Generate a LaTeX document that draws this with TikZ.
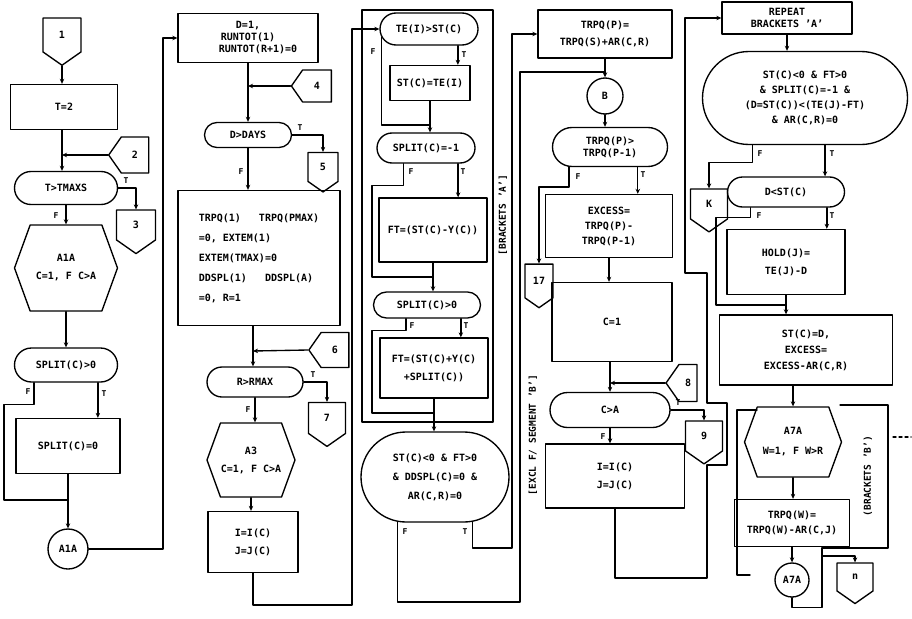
\documentclass[tikz,border=0pt]{standalone}
\usepackage{fontspec}
\setmainfont{DejaVu Sans Mono}
\usetikzlibrary{shapes.misc,shapes.symbols,arrows.meta,calc}
\begin{document}
\begin{tikzpicture}[x=1pt,y=-1pt,
  every node/.style={font=\fontsize{10}{12}\selectfont\bfseries, inner sep=0pt, align=center},
  ln/.style={line width=1.35pt, line cap=round, line join=round},
  arr/.style={ln, -{Stealth[length=5pt,width=4.5pt]}},
  proc/.style={draw, ln, rectangle},
  dec/.style={draw, ln, rounded rectangle},
  offp/.style={draw, ln, signal, signal to=south, signal pointer angle=110},
  offw/.style={draw, ln, signal, signal to=west, signal pointer angle=110},
  hexa/.style={draw, ln, signal, signal to=east and west, signal pointer angle=140},
  term/.style={draw, ln, circle},
  lbl/.style={font=\fontsize{8}{9}\selectfont\bfseries},
  vtxt/.style={rotate=90, font=\fontsize{9.5}{11}\selectfont\bfseries}
]
\useasboundingbox[fill=white] (0,0) rectangle (912,618);

% ================= NODES =================
% column 1
\node[offp, minimum width=38, minimum height=36] (c1) at (62,35) {1};
\node[proc, minimum width=107, minimum height=45] (t2) at (64,107) {T=2};
\node[offw, minimum width=40, minimum height=36] (c2) at (135,155) {2};
\node[dec, minimum width=103, minimum height=33] (d1) at (66,188) {T>TMAXS};
\node[offp, minimum width=39, minimum height=32] (c3) at (136,225) {3};
\node[hexa, minimum width=103, minimum height=86] (h1) at (66,268) {A1A\\[6pt]C=1, F C>A};
\node[dec, minimum width=103, minimum height=34] (d2) at (66,365) {SPLIT(C)>0};
\node[proc, minimum width=104, minimum height=55] (s1) at (68,446) {SPLIT(C)=0};
\node[term, minimum size=40] (a1) at (68,549) {A1A};
% column 2
\node[proc, minimum width=140, minimum height=49] (b1) at (248,38) {D=1,\\RUNTOT(1)\hspace{20pt}\\\hspace{20pt}RUNTOT(R+1)=0};
\node[offw, minimum width=40, minimum height=32] (c4) at (317,86) {4};
\node[dec, minimum width=87, minimum height=25] (d3) at (248,135) {D>DAYS};
\node[offp, minimum width=30, minimum height=31] (c5) at (323,167) {5};
\node[proc, minimum width=162, minimum height=135, align=left] (b2) at (259,258)
  {TRPQ(1) \ \ TRPQ(PMAX)\\[8pt]=0, EXTEM(1)\\[8pt]EXTEM(TMAX)=0\\[8pt]DDSPL(1) \ \ DDSPL(A)\\[8pt]=0, R=1};
\node[offw, minimum width=40, minimum height=35] (c6) at (335,350) {6};
\node[dec, minimum width=96, minimum height=30] (d4) at (255,382) {R>RMAX};
\node[offp, minimum width=37, minimum height=33] (c7) at (327,418) {7};
\node[hexa, minimum width=88, minimum height=74] (h2) at (251,460) {A3\\[6pt]C=1, F C>A};
\node[proc, minimum width=90, minimum height=61] (b3) at (253,542) {I=I(C)\\[6pt]J=J(C)};
% column 3
\node[dec, minimum width=98, minimum height=32] (d5) at (429,29) {TE(I)>ST(C)};
\node[proc, minimum width=80, minimum height=35] (r31) at (430,83) {ST(C)=TE(I)};
\node[dec, minimum width=98, minimum height=30] (d6) at (426,148) {SPLIT(C)=-1};
\node[proc, minimum width=108, minimum height=64] (r32) at (433,230) {FT=(ST(C)-Y(C))};
\node[dec, minimum width=107, minimum height=26] (d7) at (427,305) {SPLIT(C)>0};
\node[proc, minimum width=108, minimum height=60] (r33) at (434,368) {FT=(ST(C)+Y(C)\\[6pt]+SPLIT(C))};
\node[dec, minimum width=148, minimum height=90] (e1) at (435,477) {ST(C)<0 \& FT>0\\[7pt]\& DDSPL(C)=0 \&\\[7pt]AR(C,R)=0};
\node[vtxt] (bA) at (503,215) {[BRACKETS 'A']};
% column 4
\node[proc, minimum width=134, minimum height=48] (r41) at (605,34) {TRPQ(P)=\\[5pt]TRPQ(S)+AR(C,R)};
\node[term, minimum size=36] (cB) at (605,96) {B};
\node[dec, minimum width=115, minimum height=39] (d8) at (610,147) {TRPQ(P)>\\TRPQ(P-1)};
\node[offp, minimum width=28, minimum height=38] (c17) at (539,281) {17};
\node[proc, minimum width=127, minimum height=63] (r42) at (609,226) {EXCESS=\\[3pt]TRPQ(P)-\\[3pt]TRPQ(P-1)};
\node[proc, minimum width=120, minimum height=79] (r43) at (612,322) {C=1};
\node[offw, minimum width=31, minimum height=37] (c8) at (688,383) {8};
\node[dec, minimum width=120, minimum height=35] (d9) at (610,410) {C>A};
\node[offp, minimum width=37, minimum height=32] (c9) at (704,436) {9};
\node[proc, minimum width=139, minimum height=64] (r44) at (615,476) {I=I(C)\\[6pt]J=J(C)};
\node[vtxt] (sB) at (533,435) {[EXCL F/ SEGMENT 'B']};
% column 5/6
\node[proc, minimum width=130, minimum height=32] (rep) at (787,18) {REPEAT\\BRACKETS 'A'};
\node[dec, minimum width=205, minimum height=93] (e2) at (805,98) {ST(C)<0 \& FT>0\\[3pt]\& SPLIT(C)=-1 \&\\[3pt](D=ST(C))<(TE(J)-FT)\\[3pt]\& AR(C,R)=0};
\node[offp, minimum width=37, minimum height=32] (cK) at (709,204) {K};
\node[dec, minimum width=117, minimum height=30] (d10) at (786,192) {D<ST(C)};
\node[proc, minimum width=118, minimum height=65] (r61) at (786,262) {HOLD(J)=\\[6pt]TE(J)-D};
\node[proc, minimum width=173, minimum height=70] (r62) at (806,350) {ST(C)=D,\\[4pt]EXCESS=\\[4pt]EXCESS-AR(C,R)};
\node[hexa, minimum width=97, minimum height=70] (h3) at (793,442) {A7A\\[8pt]W=1, F W>R};
\node[proc, minimum width=115, minimum height=47] (r63) at (792,523) {TRPQ(W)=\\[3pt]TRPQ(W)-AR(C,J)};
\node[term, minimum size=34] (a7) at (792,580) {A7A};
\node[offp, minimum width=36, minimum height=30] (cn) at (855,577) {n};
\node[vtxt] (bB) at (868,476) {(BRACKETS 'B')};

% ================= COORDINATES =================
\coordinate (j11) at (62,155);
\coordinate (j12) at (68,500);
\coordinate (k1) at (163,549);
\coordinate (j21) at (248,86);
\coordinate (j22) at (253,351);
\coordinate (k2) at (352,605);
\coordinate (j31) at (430,125);
\coordinate (f32) at (372,277);
\coordinate (j32) at (433,277);
\coordinate (f33) at (372,413);
\coordinate (j33) at (434,413);
\coordinate (tl) at (512,548);
\coordinate (fl) at (520,602);
\coordinate (jB) at (605,72);
\coordinate (j41) at (610,383);
\coordinate (j6) at (786,305);
\coordinate (f6) at (716,305);
\coordinate (q1) at (822,548);
\coordinate (q2) at (888,548);
\coordinate (q3) at (888,405);
\coordinate (q4) at (840,405);
\coordinate (q5) at (822,556);
\coordinate (dd1) at (893,437);
\coordinate (dd2) at (911,437);

% ================= CONNECTORS =================
% column 1
\draw[arr] (c1.south) -- (c1.south |- t2.north);
\draw[ln] (j11 |- t2.south) -- (j11);
\draw[arr] (j11) -- (j11 |- d1.north);
\draw[arr] (c2.west) -- (j11);
\draw[arr] (d1.east) -| (c3.north);
\node[lbl] (l1) at (126,181) {T};
\draw[arr] (d1.south) -- (d1.south |- h1.north);
\node[lbl] (l2) at (56,216) {F};
\draw[arr] (h1.south) -- (h1.south |- d2.north);
\draw[arr] (d2.331) -- (d2.331 |- s1.north);
\node[lbl] (l3) at (104,394) {T};
\draw[ln] (d2.209) -- ++(0,22) -- ++(-30,0) |- (j12);
\node[lbl] (l4) at (28,392) {F};
\draw[ln] (s1.south) -- (j12);
\draw[arr] (j12) -- (a1.north);
\draw[arr] (a1.east) -- (k1) |- (b1.west);
% column 2
\draw[ln] (b1.south) -- (j21);
\draw[arr] (j21) -- (j21 |- d3.north);
\draw[arr] (c4.west) -- (j21);
\draw[arr] (d3.east) -| (c5.north);
\node[lbl] (l5) at (300,128) {T};
\draw[arr] (d3.south) -- (d3.south |- b2.north);
\node[lbl] (l6) at (241,172) {F};
\draw[ln] (j22 |- b2.south) -- (j22);
\draw[arr] (j22) -- (j22 |- d4.north);
\draw[arr] (c6.west) -- (j22);
\draw[arr] (d4.east) -| (c7.north);
\node[lbl] (l7) at (313,375) {T};
\draw[arr] (d4.south) -- (d4.south |- h2.north);
\node[lbl] (l8) at (248,410) {F};
\draw[arr] (h2.south) -- (h2.south |- b3.north);
\draw[arr] (b3.south) |- (k2) |- (d5.west);
% column 3
\draw[ln] (362,10) rectangle (493,422);
\draw[arr] (d5.330) -- (d5.330 |- r31.north);
\node[lbl] (l9) at (464,55) {T};
\draw[ln] (d5.190) |- (j31);
\node[lbl] (l10) at (373,52) {F};
\draw[ln] (r31.south) -- (j31);
\draw[arr] (j31) -- (j31 |- d6.north);
\draw[arr] (d6.334) -- (d6.334 |- r32.north);
\node[lbl] (l11) at (463,172) {T};
\draw[ln] (d6.215) -- ++(0,22) -| (f32) -- (j32);
\node[lbl] (l12) at (411,172) {F};
\draw[ln] (r32.south) -- (j32);
\draw[arr] (j32) -- (j32 |- d7.north);
\draw[arr] (d7.338) -- (d7.338 |- r33.north);
\node[lbl] (l13) at (466,326) {T};
\draw[ln] (d7.213) -- ++(0,12) -| (f33) -- (j33);
\node[lbl] (l14) at (412,326) {F};
\draw[ln] (r33.south) -- (j33);
\draw[arr] (j33) -- (j33 |- e1.north);
\draw[arr] (e1.310) |- (tl) |- (r41.west);
\node[lbl] (l15) at (465,532) {T};
\draw[ln] (e1.230) |- (fl) |- (jB);
\node[lbl] (l16) at (405,532) {F};
% column 4
\draw[ln] (r41.south) -- (jB);
\draw[arr] (jB) -- (cB.north);
\draw[arr] (cB.south) -- (cB.south |- d8.north);
\draw[arr] (d8.206) -- ++(0,20) -| (c17.north);
\node[lbl] (l17) at (578,177) {F};
\draw[arr] (d8.324) -- (d8.324 |- r42.north);
\node[lbl] (l18) at (643,175) {T};
\draw[arr] (r42.south) -- (r42.south |- r43.north);
\draw[ln] (j41 |- r43.south) -- (j41);
\draw[arr] (j41) -- (j41 |- d9.north);
\draw[arr] (c8.west) -- (j41);
\draw[arr] (d9.east) -| (c9.north);
\node[lbl] (l19) at (678,403) {T};
\draw[arr] (d9.south) -- (d9.south |- r44.north);
\node[lbl] (l20) at (603,437) {F};
\draw[arr] (r44.south) -- (615,578) -- (707,578) -- (707,465) -- (727,465) -- (727,403)
  -- (707,403) -- (707,273) -- (685,273) |- (rep.west);
% column 5/6
\draw[arr] (rep.south) -- (rep.south |- e2.north);
\draw[arr] (e2.222) -- ++(0,17) -| (cK.north);
\node[lbl] (l21) at (760,154) {F};
\draw[arr] (e2.293) -- (e2.293 |- d10.north);
\node[lbl] (l22) at (832,154) {T};
\draw[ln] (d10.204) -- ++(0,10) -| (f6) -- (j6);
\node[lbl] (l23) at (759,216) {F};
\draw[arr] (d10.339) -- (d10.339 |- r61.north);
\node[lbl] (l24) at (832,216) {T};
\draw[ln] (r61.south) -- (j6);
\draw[arr] (j6) -- (j6 |- r62.north);
\draw[arr] (h3.north |- r62.south) -- (h3.north);
\draw[arr] (h3.south) -- (h3.south |- r63.north);
\draw[arr] (r63.south) -- (r63.south |- a7.north);
\draw[ln] (a7.south) -- ++(0,10) -| (q1) -- (q2) -- (q3) -- (q4);
\draw[arr] (q5) -| (cn.north);
\draw[ln] (757,410) -- (737,410) -- (737,575) -- (750,575);
\draw[ln, dashed] (dd1) -- (dd2);
\end{tikzpicture}
\end{document}
